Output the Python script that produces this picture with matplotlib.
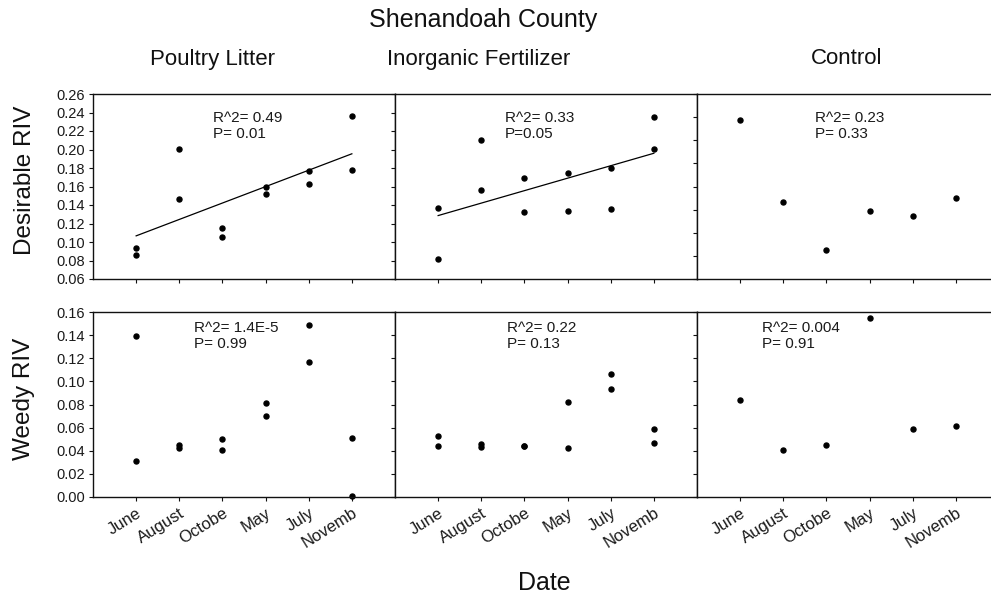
import matplotlib
matplotlib.use("Agg")
import matplotlib.pyplot as plt
import numpy as np

plt.rcParams['font.family'] = ['Liberation Sans', 'DejaVu Sans']

months = ["June", "August", "Octobe", "May", "July", "Novemb"]
treatments = ["Poultry Litter", "Inorganic Fertilizer", "Control"]

# x index of each point (two plots per date for the fertilised treatments)
x_pair = [1, 1, 2, 2, 3, 3, 4, 4, 5, 5, 6, 6]
x_single = [1, 2, 3, 4, 5, 6]

# Desirable RIV
des_poultry = [0.093, 0.086, 0.201, 0.147, 0.115, 0.105, 0.159, 0.152, 0.177, 0.163, 0.236, 0.178]
des_inorg = [0.137, 0.082, 0.210, 0.156, 0.169, 0.132, 0.175, 0.134, 0.180, 0.136, 0.235, 0.201]
des_control = [0.232, 0.143, 0.091, 0.133, 0.128, 0.148]

# Weedy RIV
weed_poultry = [0.139, 0.031, 0.045, 0.042, 0.050, 0.041, 0.081, 0.070, 0.149, 0.117, 0.051, 0.001]
weed_inorg = [0.053, 0.044, 0.046, 0.043, 0.044, 0.044, 0.082, 0.042, 0.106, 0.093, 0.059, 0.047]
weed_control = [0.084, 0.041, 0.045, 0.155, 0.059, 0.061]

r2_top = ["R^2= 0.49", "R^2= 0.33", "R^2= 0.23"]
p_top = ["P= 0.01", "P=0.05", "P= 0.33"]
r2_bot = ["R^2= 1.4E-5", "R^2= 0.22", "R^2= 0.004"]
p_bot = ["P= 0.99", "P= 0.13", "P= 0.91"]
fit_top = [True, True, False]

W, H = 991, 597
fig = plt.figure(figsize=(W / 100, H / 100), dpi=100)

lefts = [93, 395, 697]
pw = 302
ph = 185
top_bottom = 279
bot_bottom = 497
txt_x_top = [0.397, 0.364, 0.391]
txt_x_bot = [0.334, 0.371, 0.215]

top_y = [des_poultry, des_inorg, des_control]
bot_y = [weed_poultry, weed_inorg, weed_control]
xs = [x_pair, x_pair, x_single]

tc = '#1a1a1a'

def style(ax, ylim, yticks, show_labels, show_x):
    ax.set_xlim(0, 7)
    ax.set_ylim(*ylim)
    ax.set_xticks(range(1, 7))
    ax.set_yticks(yticks)
    for s in ax.spines.values():
        s.set_linewidth(1.0)
        s.set_color('#111111')
    ax.tick_params(axis='both', direction='out', length=3, width=0.8, colors='#111111')
    ax.tick_params(axis='y', labelsize=10.5, labelcolor=tc, pad=3)
    ax.tick_params(axis='x', labelsize=12, labelcolor=tc, pad=3)
    if show_labels:
        ax.set_yticklabels(["%.2f" % v for v in yticks])
    else:
        ax.set_yticklabels([])
    if show_x:
        ax.set_xticklabels(months, rotation=32, ha='right', rotation_mode='anchor')
    else:
        ax.set_xticklabels([])

for i in range(3):
    # top row: desirable
    ax = fig.add_axes([lefts[i] / W, 1 - top_bottom / H, pw / W, ph / H])
    if i < 2:
        style(ax, (0.06, 0.26), np.arange(0.06, 0.2601, 0.02), i == 0, False)
    else:
        style(ax, (0.06, 0.26), np.arange(0.06, 0.2601, 0.025), False, False)
    ax.plot(xs[i], top_y[i], 'o', color='black', markersize=3.6, clip_on=False)
    if fit_top[i]:
        m, b = np.polyfit(xs[i], top_y[i], 1)
        xx = np.array([1, 6])
        ax.plot(xx, m * xx + b, color='black', lw=0.9)
    ax.text(txt_x_top[i], 0.87, r2_top[i], transform=ax.transAxes, fontsize=11,
            color=tc, va='center')
    ax.text(txt_x_top[i], 0.785, p_top[i], transform=ax.transAxes, fontsize=11,
            color=tc, va='center')

    # bottom row: weedy
    ax = fig.add_axes([lefts[i] / W, 1 - bot_bottom / H, pw / W, ph / H])
    style(ax, (0.0, 0.16), np.arange(0.0, 0.1601, 0.02), i == 0, True)
    ax.plot(xs[i], bot_y[i], 'o', color='black', markersize=3.6, clip_on=False)
    ax.text(txt_x_bot[i], 0.915, r2_bot[i], transform=ax.transAxes, fontsize=11,
            color=tc, va='center')
    ax.text(txt_x_bot[i], 0.828, p_bot[i], transform=ax.transAxes, fontsize=11,
            color=tc, va='center')

fig.text(483 / W, 1 - 20 / H, "Shenandoah County", fontsize=18, ha='center', va='center', color='#111111')
title_x = [213, 479, 847]
for t, x in zip(treatments, title_x):
    fig.text(x / W, 1 - 59 / H, t, fontsize=16, ha='center', va='center', color='#111111')
fig.text(25 / W, 1 - 180 / H, "Desirable RIV", fontsize=17.5, rotation=90, ha='center', va='center', color='#111111')
fig.text(24 / W, 1 - 399 / H, "Weedy RIV", fontsize=17.5, rotation=90, ha='center', va='center', color='#111111')
fig.text(544 / W, 1 - 583 / H, "Date", fontsize=18, ha='center', va='center', color='#111111')

fig.savefig("out.png", dpi=100)
